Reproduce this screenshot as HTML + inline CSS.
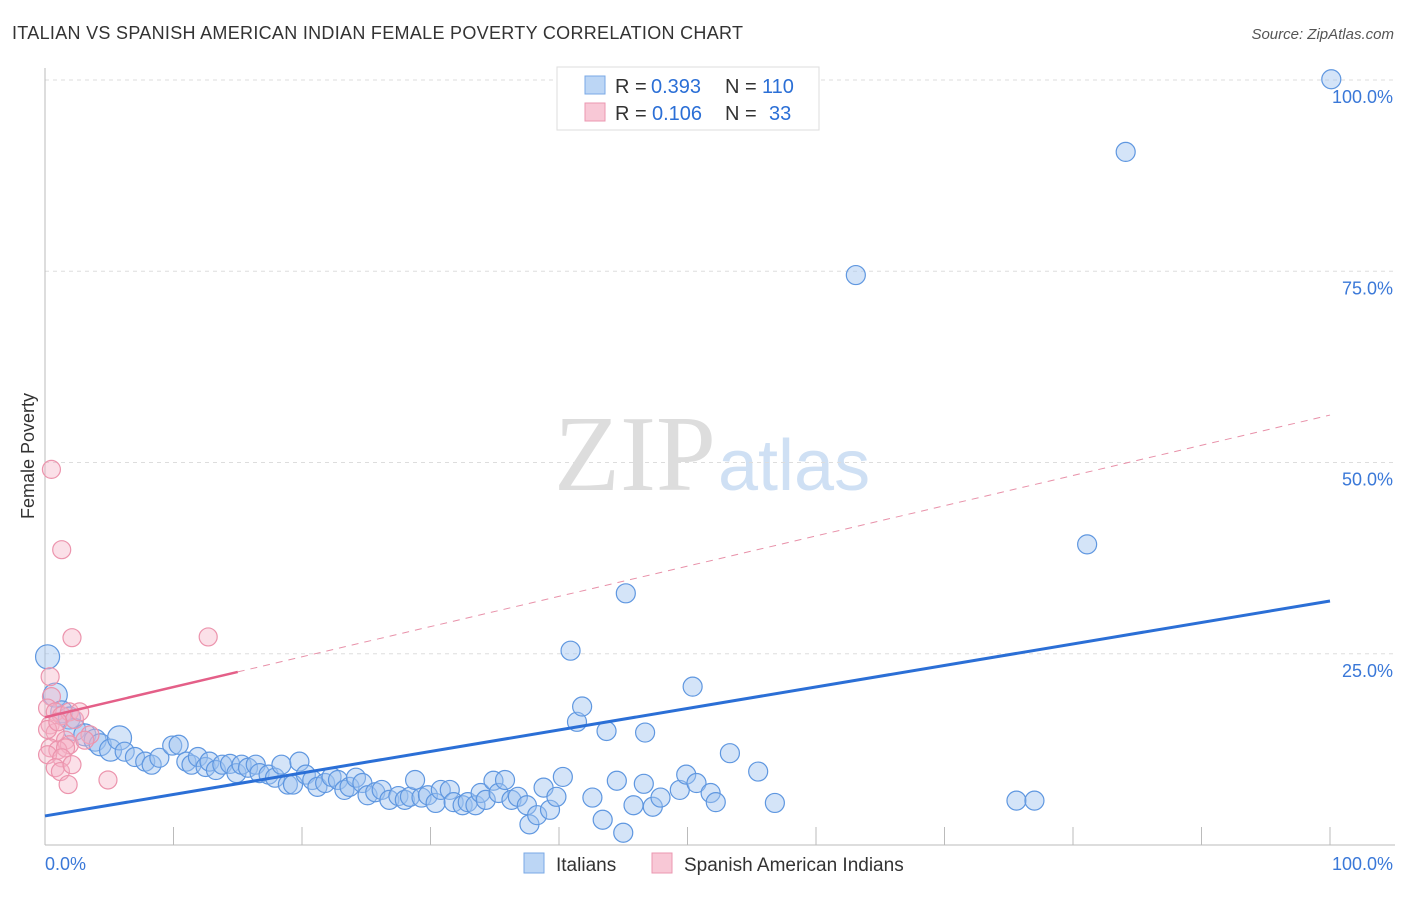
<!DOCTYPE html>
<html><head><meta charset="utf-8"><style>
body{margin:0;background:#fff;font-family:"Liberation Sans",sans-serif}
svg text{font-family:"Liberation Sans",sans-serif}
</style></head><body>
<svg id="chart" width="1406" height="892" xmlns="http://www.w3.org/2000/svg">
<text x="12" y="39" font-size="18" fill="#333" textLength="731">ITALIAN VS SPANISH AMERICAN INDIAN FEMALE POVERTY CORRELATION CHART</text>
<text x="1394" y="39" font-size="15" fill="#555" font-style="italic" text-anchor="end">Source: ZipAtlas.com</text>
<text x="716" y="490" font-size="108" fill="#ddd" text-anchor="end" font-family="Liberation Serif" style="font-family:'Liberation Serif',serif">ZIP</text>
<text x="718" y="490" font-size="72" fill="#cfe0f4">atlas</text>
<g id="grid"></g>
<g id="axes"></g>
<g id="pts"></g>
<g id="lines"></g>
<text x="34" y="456" font-size="18" fill="#333" text-anchor="middle" transform="rotate(-90 34 456)">Female Poverty</text>
<g>
<rect x="557" y="67" width="262" height="63" fill="#fff" stroke="#ddd"/>
<rect x="585" y="76" width="20" height="18" fill="#bcd6f5" stroke="#7aa8e6"/>
<rect x="585" y="103" width="20" height="18" fill="#f8c8d6" stroke="#eb97b0"/>
<text x="615" y="93" font-size="20" fill="#333">R =</text><text x="651" y="93" font-size="20" fill="#2b6fd6">0.393</text>
<text x="725" y="93" font-size="20" fill="#333">N =</text><text x="762" y="93" font-size="20" fill="#2b6fd6">110</text>
<text x="615" y="120" font-size="20" fill="#333">R =</text><text x="652" y="120" font-size="20" fill="#2b6fd6">0.106</text>
<text x="725" y="120" font-size="20" fill="#333">N =</text><text x="769" y="120" font-size="20" fill="#2b6fd6">33</text>
</g>
<g>
<rect x="524" y="853" width="20" height="20" fill="#bcd6f5" stroke="#7aa8e6"/>
<text x="556" y="871" font-size="19" fill="#333">Italians</text>
<rect x="652" y="853" width="20" height="20" fill="#f8c8d6" stroke="#eb97b0"/>
<text x="684" y="871" font-size="19" fill="#333">Spanish American Indians</text>
</g>
</svg>
<script>
const blueX=[0.2,0.8,1.3,1.9,2.3,3.1,3.9,4.3,5.1,5.8,6.2,7.0,7.8,8.3,8.9,9.9,10.4,11.0,11.4,11.9,12.5,12.8,13.3,13.8,14.4,14.9,15.3,15.8,16.4,16.7,17.4,17.9,18.4,18.9,19.3,19.8,20.3,20.8,21.2,21.8,22.3,22.8,23.3,23.7,24.2,24.7,25.1,25.7,26.2,26.8,27.5,28.0,28.4,28.8,29.3,29.8,30.4,30.8,31.5,31.8,32.5,32.9,33.5,33.9,34.3,34.9,35.3,35.8,36.3,36.8,37.5,37.7,38.3,38.8,39.3,39.8,40.3,40.9,41.4,41.8,42.6,43.4,43.7,44.5,45.0,45.2,45.8,46.6,46.7,47.3,47.9,49.4,49.9,50.4,50.7,51.8,52.2,53.3,55.5,56.8,63.1,75.6,77.0,81.1,84.1,100.1];
const blueY=[24.6,19.6,17.4,16.6,15.1,14.4,13.7,13.1,12.4,14.0,12.2,11.5,10.9,10.5,11.4,13.0,13.1,10.9,10.5,11.5,10.2,10.9,9.8,10.5,10.6,9.4,10.5,10.1,10.5,9.4,9.2,8.8,10.5,7.9,7.9,10.9,9.2,8.5,7.6,8.1,8.9,8.5,7.2,7.6,8.8,8.1,6.5,6.9,7.2,5.9,6.4,5.9,6.3,8.5,6.2,6.5,5.5,7.2,7.2,5.6,5.2,5.6,5.2,6.8,5.9,8.4,6.8,8.5,5.9,6.3,5.2,2.7,3.9,7.5,4.6,6.3,8.9,25.4,16.1,18.1,6.2,3.3,14.9,8.4,1.6,32.9,5.2,8.0,14.7,5.0,6.2,7.2,9.2,20.7,8.1,6.8,5.6,12.0,9.6,5.5,74.5,5.8,5.8,39.3,90.6,100.1];
const pinkX=[0.5,1.3,2.1,12.7,0.4,0.5,0.2,0.8,1.3,1.9,2.3,0.4,0.8,1.6,1.9,0.4,1.0,1.6,0.2,1.3,0.8,1.2,2.1,1.8,4.9,3.5,3.1,2.7,0.2,1.0];
const pinkY=[49.1,38.6,27.1,27.2,22.0,19.4,17.9,17.4,16.9,17.4,16.4,15.7,14.7,13.7,13.1,12.7,12.4,12.7,11.8,11.4,10.1,9.6,10.5,7.9,8.5,14.4,13.7,17.4,15.1,16.1];
const blueTrend=[3.8,31.9];
const pinkTrend=[16.7,56.2];
const pinkSolidEnd=15;
const yTicks=[25,50,75,100];
const xTickLabels=["0.0%","100.0%"];
const NS="http://www.w3.org/2000/svg";
const X=v=>45+v*12.85, Y=v=>845-v*7.65;
function mk(tag,attrs,parent){const e=document.createElementNS(NS,tag);for(const k in attrs)e.setAttribute(k,attrs[k]);parent.appendChild(e);return e;}
const grid=document.getElementById('grid'),axes=document.getElementById('axes'),pts=document.getElementById('pts'),lines=document.getElementById('lines');
yTicks.forEach(t=>{
 const l=mk('line',{x1:45,x2:1395,y1:Y(t),y2:Y(t),stroke:'#ddd','stroke-dasharray':'4,4'},grid);
 
 
 const tx=mk('text',{x:1393,y:Y(t)+23,'font-size':18,fill:'#3a78d8','text-anchor':'end'},axes);
 tx.textContent=t.toFixed(1)+'%';
 
 
});
const ax=mk('line',{x1:45,x2:1395,y1:845,y2:845,stroke:'#bbb'},axes);


const ay=mk('line',{x1:45,x2:45,y1:68,y2:845,stroke:'#bbb'},axes);


for(let i=1;i<=10;i++){const t=mk('line',{x1:X(i*10),x2:X(i*10),y1:827,y2:845,stroke:'#bbb'},axes);
 
 }
[[0,'start',45],[100,'end',1393]].forEach((d,i)=>{const t=mk('text',{x:d[2],y:870,'font-size':18,fill:'#3a78d8','text-anchor':d[1]},axes);t.textContent=xTickLabels[i];
 
 });
blueX.forEach((x,i)=>{const r=i<10?(i<2||i==9?12:11):9.5;
 const c=mk('circle',{cx:X(x),cy:Y(blueY[i]),r:r,fill:'rgba(160,196,240,0.45)',stroke:'#5f97e0','stroke-width':1.2},pts);
 
 });
pinkX.forEach((x,i)=>{const c=mk('circle',{cx:X(x),cy:Y(pinkY[i]),r:9,fill:'rgba(246,178,198,0.4)',stroke:'#ec94ad','stroke-width':1.2},pts);
 
 });
const bl=mk('line',{x1:X(0),y1:Y(blueTrend[0]),x2:X(100),y2:Y(blueTrend[1]),stroke:'#2b6fd6','stroke-width':3},lines);


const pe=pinkTrend[0]+(pinkTrend[1]-pinkTrend[0])*pinkSolidEnd/100;
const pd=mk('line',{x1:X(pinkSolidEnd),y1:Y(pe),x2:X(100),y2:Y(pinkTrend[1]),stroke:'#e891a9','stroke-width':1,'stroke-dasharray':'7,6'},lines);


const ps=mk('line',{x1:X(0),y1:Y(pinkTrend[0]),x2:X(pinkSolidEnd),y2:Y(pe),stroke:'#e45f88','stroke-width':2.5},lines);


</script>
</body></html>
